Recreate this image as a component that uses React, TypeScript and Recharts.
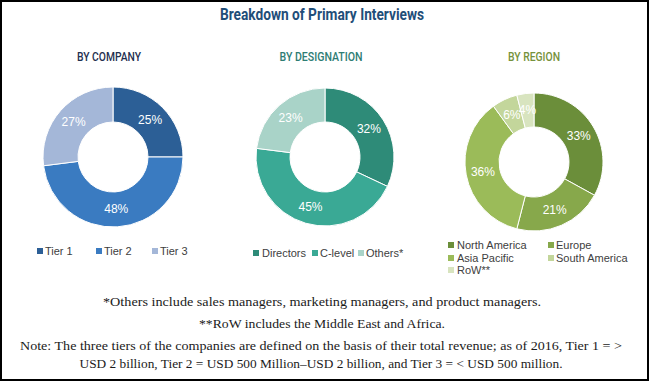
import React from "react";
import { PieChart, Pie, Cell } from "recharts";

const title = "Breakdown of Primary Interviews";
const subtitles = ["BY COMPANY", "BY DESIGNATION", "BY REGION"];

const companyNames = ["Tier 1", "Tier 2", "Tier 3"];
const companyValues = [25, 48, 27];
const companyColors = ["#2c5f96", "#3a7bc1", "#a4b7d8"];

const designationNames = ["Directors", "C-level", "Others*"];
const designationValues = [32, 45, 23];
const designationColors = ["#2e8b78", "#3aa995", "#a9d3c8"];

const regionNames = ["North America", "Europe", "Asia Pacific", "South America", "RoW**"];
const regionValues = [33, 21, 36, 6, 4];
const regionColors = ["#6b8e3a", "#87a84b", "#9bbb59", "#c3d69b", "#d8e4bf"];

const footnotes = [
  "*Others include sales managers, marketing managers, and product managers.",
  "**RoW includes the Middle East and Africa.",
  "Note: The three tiers of the companies are defined on the basis of their total revenue; as of 2016, Tier 1 = >",
  "USD 2 billion, Tier 2 = USD 500 Million\u2013USD 2 billion, and Tier 3 = < USD 500 million.",
];

const RADIAN = Math.PI / 180;

const build = (names: string[], values: number[]) =>
  names.map((name, i) => ({ name, value: values[i] }));

const renderLabel = (props: any) => {
  const { cx, cy, midAngle, innerRadius, outerRadius, value } = props;
  const r = (innerRadius + outerRadius) / 2;
  const x = cx + r * Math.cos(-midAngle * RADIAN);
  const y = cy + r * Math.sin(-midAngle * RADIAN);
  return (
    <text
      x={x}
      y={y}
      fill="#ffffff"
      textAnchor="middle"
      dominantBaseline="central"
      fontSize={12}
      fontFamily="Liberation Sans, Arial, sans-serif"
    >
      {`${value}%`}
    </text>
  );
};

const Legend = ({
  names,
  colors,
  xs,
  ys,
  textXs,
}: {
  names: string[];
  colors: string[];
  xs: number[];
  ys: number[];
  textXs: number[];
}) => (
  <g>
    {names.map((n, i) => (
      <g key={n}>
        <rect x={xs[i]} y={ys[i] - 3} width={6} height={6} fill={colors[i]} />
        <text
          x={textXs[i]}
          y={ys[i] + 4}
          fontSize={11}
          fill="#404040"
          fontFamily="Liberation Sans, Arial, sans-serif"
        >
          {n}
        </text>
      </g>
    ))}
  </g>
);

export default function App() {
  const company = build(companyNames, companyValues);
  const designation = build(designationNames, designationValues);
  const region = build(regionNames, regionValues);

  const footY = [306, 328, 350, 368];
  const footX = [322, 322, 321, 321];
  const footW = [438, 246, 602, 483];

  return (
    <div
      style={{
        position: "absolute",
        left: 0,
        top: 0,
        width: 650,
        height: 382,
        background: "#fff",
      }}
    >
      <div style={{ position: "absolute", left: 0, top: 0 }}>
        <PieChart
          width={650}
          height={382}
          margin={{ top: 0, right: 0, bottom: 0, left: 0 }}
        >
          <Pie
            data={company}
            dataKey="value"
            nameKey="name"
            cx={113}
            cy={157}
            innerRadius={35}
            outerRadius={70}
            startAngle={90}
            endAngle={-270}
            stroke="#ffffff"
            strokeWidth={1}
            label={renderLabel}
            labelLine={false}
            isAnimationActive={false}
          >
            {company.map((d, i) => (
              <Cell key={d.name} fill={companyColors[i]} />
            ))}
          </Pie>
          <Pie
            data={designation}
            dataKey="value"
            nameKey="name"
            cx={325}
            cy={157}
            innerRadius={35}
            outerRadius={69}
            startAngle={90}
            endAngle={-270}
            stroke="#ffffff"
            strokeWidth={1}
            label={renderLabel}
            labelLine={false}
            isAnimationActive={false}
          >
            {designation.map((d, i) => (
              <Cell key={d.name} fill={designationColors[i]} />
            ))}
          </Pie>
          <Pie
            data={region}
            dataKey="value"
            nameKey="name"
            cx={534}
            cy={162}
            innerRadius={35}
            outerRadius={69}
            startAngle={90}
            endAngle={-270}
            stroke="#ffffff"
            strokeWidth={1}
            label={renderLabel}
            labelLine={false}
            isAnimationActive={false}
          >
            {region.map((d, i) => (
              <Cell key={d.name} fill={regionColors[i]} />
            ))}
          </Pie>
        </PieChart>
      </div>
      <svg
        width={650}
        height={382}
        style={{ position: "absolute", left: 0, top: 0, pointerEvents: "none" }}
      >
        <text
          x={322}
          y={20}
          textAnchor="middle"
          fontSize={16}
          fontWeight={700}
          fill="#1f4e79"
          fontFamily="Roboto, sans-serif"
          textLength={204}
          lengthAdjust="spacingAndGlyphs"
        >
          {title}
        </text>
        {subtitles.map((s, i) => (
          <text
            key={s}
            x={[109, 321, 534][i]}
            y={61}
            textAnchor="middle"
            fontSize={12}
            fontWeight={500}
            fill={["#1f3050", "#2e7d74", "#76923c"][i]}
            fontFamily="Roboto, sans-serif"
            textLength={[64, 83, 52][i]}
            lengthAdjust="spacingAndGlyphs"
          >
            {s}
          </text>
        ))}
        <Legend
          names={companyNames}
          colors={companyColors}
          xs={[37, 96, 152]}
          ys={[251, 251, 251]}
          textXs={[45, 104, 160]}
        />
        <Legend
          names={designationNames}
          colors={designationColors}
          xs={[253, 312, 358]}
          ys={[253, 253, 253]}
          textXs={[262, 320, 366]}
        />
        <Legend
          names={regionNames}
          colors={regionColors}
          xs={[448, 548, 448, 548, 448]}
          ys={[245, 245, 258, 258, 270]}
          textXs={[457, 556, 457, 556, 457]}
        />
        {footnotes.map((f, i) => (
          <text
            key={i}
            x={footX[i]}
            y={footY[i]}
            textAnchor="middle"
            fontSize={13}
            fill="#1a1a1a"
            fontFamily="Liberation Serif, serif"
            textLength={footW[i]}
            lengthAdjust="spacingAndGlyphs"
          >
            {f}
          </text>
        ))}
        <rect
          x={1}
          y={1}
          width={647}
          height={379}
          fill="none"
          stroke="#000"
          strokeWidth={2}
        />
      </svg>
    </div>
  );
}
